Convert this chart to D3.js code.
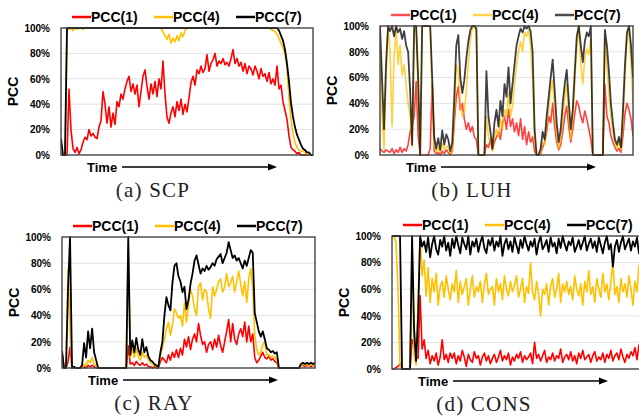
<!DOCTYPE html>
<html>
<head>
<meta charset="utf-8">
<script src="https://cdn.jsdelivr.net/npm/d3@7"></script>
<style>
    body { margin: 0; background: #fff; }
    svg text { font-family: "Liberation Sans", Arial, sans-serif; }
    .tick text { font-weight: bold; font-size: 10px; fill: #000; }
    .legend-text, .time-text, .y-label { font-weight: bold; font-size: 14px; }
    .time-text { font-size: 13px; }
    .caption { font-family: "Liberation Serif", "Times New Roman", serif !important; font-size: 21px; letter-spacing: 1.2px; fill: #222; }
    .grid-line { stroke: #e2e2e2; stroke-width: 1; }
</style>
</head>
<body>
<svg id="chart" width="639" height="416"></svg>
<script>
const seriesNames = ['PCC(1)', 'PCC(4)', 'PCC(7)'];
const yTicks = [0, 20, 40, 60, 80, 100];
const captions = ['(a) SCP', '(b) LUH', '(c) RAY', '(d) CONS'];

// SCP
const scpPcc1 = [
    0, 0, 0, 0, 52, 20, 5, 2, 6, 1,
    4, 10, 14, 12, 20, 15, 17, 14, 13, 22,
    27, 50, 40, 25, 38, 22, 33, 24, 42, 38,
    48, 44, 52, 58, 62, 50, 56, 48, 55, 38,
    50, 62, 67, 54, 44, 56, 48, 58, 46, 60,
    52, 74, 48, 30, 25, 33, 38, 30, 42, 35,
    44, 32, 40, 34, 45, 57, 62, 55, 67, 64,
    70, 65, 68, 79, 66, 72, 75, 80, 70, 74,
    72, 76, 71, 73, 70, 76, 83, 72, 76, 70,
    73, 66, 72, 64, 70, 68, 63, 70, 66, 60,
    68, 62, 64, 58, 65, 56, 60, 55, 70, 52,
    55, 42, 35, 28, 15, 6, 4, 3, 1, 2,
    0, 0, 0, 0, 0, 0, 0];
const scpPcc4 = [
    0, 0, 0, 100, 99, 100, 98, 100, 99, 100,
    100, 99, 100, 100, 100, 100, 100, 100, 100, 100,
    100, 100, 100, 100, 100, 100, 100, 100, 100, 100,
    100, 100, 100, 100, 100, 100, 100, 100, 100, 100,
    100, 100, 100, 100, 100, 100, 100, 100, 100, 100,
    100, 97, 94, 91, 95, 88, 92, 89, 94, 90,
    96, 93, 98, 100, 100, 100, 100, 100, 100, 100,
    100, 100, 100, 100, 100, 100, 100, 100, 100, 100,
    100, 100, 100, 100, 100, 100, 100, 100, 100, 100,
    100, 100, 100, 100, 100, 100, 100, 100, 100, 100,
    100, 100, 100, 100, 100, 99, 98, 97, 95, 92,
    88, 84, 80, 68, 45, 28, 17, 10, 6, 4,
    3, 3, 2, 1, 0, 0, 0];
const scpPcc7 = [
    13, 0, 0, 100, 100, 100, 100, 100, 100, 100,
    100, 100, 100, 100, 100, 100, 100, 100, 100, 100,
    100, 100, 100, 100, 100, 100, 100, 100, 100, 100,
    100, 100, 100, 100, 100, 100, 100, 100, 100, 100,
    100, 100, 100, 100, 100, 100, 100, 100, 100, 100,
    100, 100, 100, 100, 100, 100, 100, 100, 100, 100,
    100, 100, 100, 100, 100, 100, 100, 100, 100, 100,
    100, 100, 100, 100, 100, 100, 100, 100, 100, 100,
    100, 100, 100, 100, 100, 100, 100, 100, 100, 100,
    100, 100, 100, 100, 100, 100, 100, 100, 100, 100,
    100, 100, 100, 100, 100, 100, 100, 100, 100, 98,
    94, 90, 83, 72, 58, 41, 30, 22, 16, 12,
    8, 5, 4, 2, 2, 0, 0];

// LUH
const luhPcc1 = [
    5, 3, 2, 4, 3, 2, 5, 1, 4, 2,
    6, 2, 5, 3, 8, 18, 22, 30, 57, 15,
    0, 0, 0, 0, 0, 5, 55, 3, 1, 2,
    0, 3, 1, 4, 2, 0, 3, 25, 45, 53,
    35, 40, 28, 20, 25, 18, 22, 14, 12, 0,
    0, 0, 0, 8, 6, 12, 4, 10, 14, 18,
    12, 25, 30, 20, 35, 22, 28, 18, 25, 15,
    28, 12, 22, 8, 18, 10, 14, 3, 0, 0,
    1, 6, 10, 18, 30, 25, 40, 22, 10, 4,
    8, 18, 30, 38, 22, 10, 20, 32, 42, 38,
    30, 25, 34, 28, 20, 12, 0, 0, 0, 0,
    0, 0, 55, 30, 25, 15, 10, 6, 3, 5,
    2, 15, 32, 40, 35, 28, 15];
const luhPcc4 = [
    100, 30, 4, 60, 100, 80, 22, 75, 98, 70,
    85, 62, 70, 55, 40, 30, 6, 95, 100, 50,
    0, 100, 100, 100, 100, 100, 45, 8, 2, 6,
    2, 9, 4, 7, 5, 1, 4, 30, 70, 65,
    40, 30, 33, 50, 72, 90, 98, 100, 96, 0,
    0, 0, 0, 30, 14, 10, 3, 15, 20, 14,
    28, 20, 35, 30, 48, 30, 38, 55, 70, 80,
    88, 80, 95, 92, 97, 85, 60, 10, 0, 0,
    2, 10, 8, 22, 35, 50, 58, 35, 15, 5,
    12, 28, 45, 55, 30, 12, 28, 55, 85, 100,
    70, 55, 75, 82, 78, 90, 0, 0, 0, 0,
    0, 0, 90, 70, 48, 30, 18, 8, 5, 10,
    4, 25, 60, 90, 98, 72, 40];
const luhPcc7 = [
    100, 60, 20, 70, 100, 96, 100, 92, 100, 95,
    98, 90, 96, 85, 80, 50, 8, 100, 100, 60,
    0, 100, 100, 100, 100, 100, 60, 14, 5, 13,
    4, 19, 8, 16, 12, 3, 10, 45, 85, 93,
    60, 48, 58, 75, 88, 97, 100, 100, 98, 0,
    0, 0, 0, 65, 30, 18, 5, 25, 35, 22,
    42, 30, 55, 45, 68, 40, 55, 70, 85, 92,
    98, 95, 100, 98, 100, 96, 80, 20, 0, 0,
    5, 18, 12, 30, 45, 60, 74, 50, 25, 10,
    20, 40, 55, 66, 42, 20, 35, 65, 92, 100,
    85, 72, 88, 95, 92, 100, 0, 0, 0, 0,
    0, 0, 97, 85, 65, 40, 25, 12, 8, 14,
    6, 35, 70, 95, 100, 85, 60];

// RAY
const rayPcc1 = [
    13, 0, 0, 5, 16, 0, 0, 0, 0, 0,
    0, 1, 0, 2, 1, 2, 1, 0, 0, 0,
    0, 0, 0, 0, 0, 0, 0, 0, 0, 0,
    0, 0, 0, 17, 3, 4, 2, 5, 3, 2,
    4, 2, 3, 1, 1, 0, 1, 0, 0, 5,
    8, 6, 4, 10, 6, 12, 8, 14, 8, 15,
    10, 22, 16, 24, 14, 22, 26, 20, 34, 25,
    18, 20, 12, 18, 20, 14, 22, 16, 25, 17,
    12, 20, 28, 37, 20, 34, 22, 18, 26, 30,
    24, 35, 20, 32, 20, 26, 8, 4, 6, 9,
    12, 8, 7, 9, 6, 7, 5, 4, 0, 0,
    0, 0, 0, 0, 0, 0, 0, 0, 0, 2,
    2, 1, 2, 2, 1, 2, 2];
const rayPcc4 = [
    10, 0, 0, 75, 30, 0, 0, 0, 0, 0,
    0, 3, 2, 6, 4, 8, 3, 2, 0, 0,
    0, 0, 0, 0, 0, 0, 0, 0, 0, 0,
    0, 0, 0, 90, 8, 14, 8, 15, 9, 6,
    12, 8, 10, 6, 4, 3, 2, 1, 1, 10,
    15, 22, 30, 35, 25, 33, 45, 42, 38, 40,
    32, 50, 35, 48, 60, 55, 45, 40, 62, 65,
    52, 60, 58, 45, 38, 62, 55, 60, 66, 68,
    58, 62, 72, 62, 65, 70, 58, 66, 74, 64,
    55, 66, 50, 68, 76, 60, 25, 14, 10, 12,
    18, 20, 10, 10, 8, 9, 8, 6, 0, 0,
    0, 0, 0, 0, 0, 0, 0, 0, 0, 2,
    3, 2, 3, 2, 3, 2, 3];
const rayPcc7 = [
    13, 0, 0, 60, 100, 0, 1, 0, 0, 0,
    2, 19, 8, 28, 15, 30, 12, 6, 0, 0,
    0, 0, 0, 0, 0, 0, 0, 0, 0, 0,
    0, 0, 0, 100, 10, 21, 12, 23, 14, 10,
    22, 12, 16, 9, 6, 5, 3, 2, 1, 12,
    20, 40, 54, 48, 44, 65, 78, 80, 70, 66,
    58, 62, 45, 52, 64, 72, 82, 86, 79, 72,
    76, 74, 78, 75, 77, 80, 78, 83, 85, 87,
    80, 84, 88, 96, 90, 84, 86, 82, 84, 80,
    76, 82, 78, 84, 90, 88, 42, 35, 28, 24,
    28, 22, 15, 14, 12, 13, 11, 12, 0, 0,
    0, 0, 0, 0, 0, 0, 0, 0, 0, 3,
    4, 3, 4, 3, 4, 3, 4];

// CONS
const consPcc1 = [
    0, 0, 1, 2, 4, 0, 0, 0, 0, 0,
    22, 18, 10, 8, 55, 15, 22, 8, 14, 4,
    10, 6, 12, 3, 9, 22, 7, 11, 5, 12,
    8, 12, 4, 10, 6, 14, 9, 2, 11, 7,
    5, 13, 8, 10, 3, 9, 12, 6, 10, 4,
    8, 11, 5, 9, 14, 6, 10, 7, 12, 3,
    9, 6, 11, 8, 13, 5, 10, 7, 9, 12,
    4, 20, 8, 11, 6, 10, 14, 5, 9, 7,
    12, 6, 10, 8, 15, 5, 9, 11, 7, 13,
    6, 10, 4, 12, 8, 14, 7, 9, 11, 5,
    10, 13, 6, 9, 7, 12, 5, 11, 8, 14,
    6, 10, 12, 7, 15, 9, 5, 11, 8, 13,
    10, 16, 7, 18, 9, 12, 8];
const consPcc4 = [
    100, 100, 95, 60, 2, 0, 0, 0, 0, 0,
    95, 10, 3, 50, 100, 70, 82, 55, 76, 50,
    68, 58, 72, 48, 62, 66, 54, 70, 60, 52,
    64, 58, 74, 50, 66, 56, 62, 68, 48, 60,
    70, 54, 62, 58, 66, 50, 64, 72, 56, 60,
    62, 48, 68, 58, 64, 52, 70, 60, 55, 66,
    58, 63, 70, 54, 60, 68, 50, 62, 57, 80,
    58, 52, 66, 56, 40, 60, 56, 64, 48, 62,
    68, 54, 60, 72, 50, 64, 58, 66, 56, 62,
    52, 70, 60, 55, 64, 48, 66, 58, 74, 56,
    62, 50, 68, 60, 54, 72, 58, 64, 52, 66,
    80, 56, 62, 50, 68, 58, 64, 54, 70, 60,
    48, 66, 58, 78, 62, 55, 68];
const consPcc7 = [
    100, 100, 100, 100, 100, 0, 0, 0, 0, 0,
    100, 30, 6, 40, 100, 92, 96, 88, 99, 84,
    94, 100, 90, 86, 97, 92, 100, 89, 95, 85,
    98, 91, 100, 93, 87, 99, 94, 90, 100, 86,
    96, 92, 98, 88, 95, 100, 91, 87, 97, 93,
    99, 89, 96, 92, 100, 85, 94, 98, 90, 96,
    88, 99, 93, 87, 97, 91, 100, 94, 89, 96,
    92, 98, 86, 95, 100, 90, 93, 97, 88, 99,
    92, 95, 87, 98, 91, 100, 94, 89, 96, 93,
    99, 88, 92, 97, 90, 95, 100, 89, 94, 98,
    91, 96, 88, 99, 93, 87, 95, 100, 90, 94,
    77, 92, 97, 88, 95, 100, 90, 94, 98, 89,
    96, 92, 99, 87, 95, 91, 97];

const lineColors = ['#ff0000', '#ffc000', '#000000'];

function PccPanel(svg, box, caption, series, fade) {
    let vis = this;
    vis.svg = svg;
    vis.box = box;
    vis.caption = caption;
    vis.series = series;
    vis.fade = fade;
    vis.init();
}

PccPanel.prototype.init = function() {
    let vis = this;
    let b = vis.box;
    vis.g = vis.svg.append('g');

    vis.x = d3.scaleLinear()
        .domain([0, vis.series[2].length - 1])
        .range([b.x0, b.x1]);
    vis.y = d3.scaleLinear()
        .domain([0, 100])
        .range([b.bottom, b.top]);

    // grid
    vis.g.selectAll('.grid-line')
        .data(yTicks.filter(d => d > 0 && d < 100))
        .enter().append('line')
        .attr('class', 'grid-line')
        .attr('x1', b.x0).attr('x2', b.x1)
        .attr('y1', d => vis.y(d)).attr('y2', d => vis.y(d));

    let yAxis = vis.g.append('g')
        .attr('transform', `translate(${b.x0},0)`)
        .call(d3.axisLeft(vis.y).tickValues(yTicks).tickFormat(d => d + '%').tickSize(0).tickPadding(11));
    yAxis.select('.domain').remove();

    vis.g.append('text')
        .attr('class', 'y-label')
        .attr('transform', `translate(${b.x0 - 43},${(b.top + b.bottom) / 2}) rotate(-90)`)
        .attr('text-anchor', 'middle')
        .text('PCC');

    let clipId = 'clip' + Math.round(b.x0) + '_' + Math.round(b.top);
    vis.svg.append('clipPath').attr('id', clipId)
        .append('rect')
        .attr('x', b.x0).attr('y', b.top - 1)
        .attr('width', b.x1 - b.x0).attr('height', b.bottom - b.top + 2);

    let line = d3.line()
        .x((d, i) => vis.x(i))
        .y(d => vis.y(d));

    vis.g.append('g').attr('clip-path', `url(#${clipId})`)
        .selectAll('path')
        .data(vis.series)
        .enter().append('path')
        .attr('d', d => line(d))
        .attr('fill', 'none')
        .attr('stroke', (d, i) => lineColors[i])
        .attr('stroke-opacity', vis.fade ? 0.75 : 1)
        .attr('stroke-width', (d, i) => i == 2 ? 1.8 : 1.6)
        .attr('stroke-linejoin', 'round');

    vis.g.append('rect')
        .attr('x', b.x0).attr('y', b.top)
        .attr('width', b.x1 - b.x0).attr('height', b.bottom - b.top)
        .attr('fill', 'none')
        .attr('stroke', '#444')
        .attr('stroke-width', 1.4);

    // legend
    let legend = vis.g.selectAll('.legend')
        .data(seriesNames)
        .enter().append('g')
        .attr('transform', (d, i) => `translate(${b.x0 + 11 + 82 * i},${b.top - 11})`);
    legend.append('line')
        .attr('x1', 0).attr('x2', 19)
        .attr('stroke', (d, i) => lineColors[i])
        .attr('stroke-opacity', vis.fade ? 0.7 : 1)
        .attr('stroke-width', 2.5);
    legend.append('text')
        .attr('class', 'legend-text')
        .attr('x', 19).attr('dy', '0.36em')
        .text(d => d);

    // time arrow
    let ty = b.bottom + 12;
    vis.g.append('text')
        .attr('class', 'time-text')
        .attr('x', b.x0 + 26).attr('y', ty).attr('dy', '0.36em')
        .text('Time');
    vis.g.append('line')
        .attr('x1', b.x0 + 61).attr('x2', b.x0 + 209)
        .attr('y1', ty).attr('y2', ty)
        .attr('stroke', '#000').attr('stroke-width', 1.5);
    vis.g.append('path')
        .attr('d', `M${b.x0 + 216},${ty} L${b.x0 + 207},${ty - 3.5} L${b.x0 + 207},${ty + 3.5} Z`)
        .attr('fill', '#000');

    vis.g.append('text')
        .attr('class', 'caption')
        .attr('x', b.x0 + 92).attr('y', b.bottom + 42)
        .attr('text-anchor', 'middle')
        .text(vis.caption);
}

let svg = d3.select('#chart');
new PccPanel(svg, {x0: 61, x1: 313, top: 28, bottom: 155}, captions[0], [scpPcc1, scpPcc4, scpPcc7], false);
new PccPanel(svg, {x0: 380, x1: 633, top: 26, bottom: 155}, captions[1], [luhPcc1, luhPcc4, luhPcc7], true);
new PccPanel(svg, {x0: 62, x1: 315, top: 237, bottom: 368}, captions[2], [rayPcc1, rayPcc4, rayPcc7], false);
new PccPanel(svg, {x0: 392, x1: 645, top: 236, bottom: 369}, captions[3], [consPcc1, consPcc4, consPcc7], false);
</script>
</body>
</html>
